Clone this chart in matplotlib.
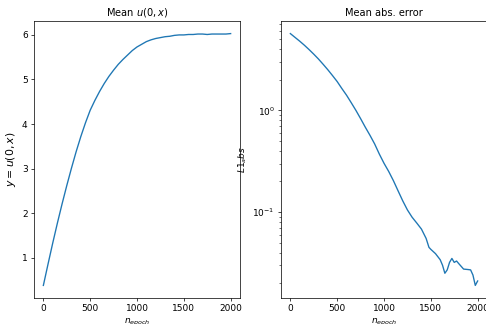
import numpy as np
import matplotlib
matplotlib.use('Agg')
import matplotlib.pyplot as plt

# mean u(0, x) over training epochs
epochs_u = [0, 50, 100, 150, 200, 250, 300, 350, 400, 450, 500, 550, 600, 650, 700,
            750, 800, 850, 900, 950, 1000, 1050, 1100, 1150, 1200, 1250, 1300, 1350,
            1400, 1450, 1500, 1550, 1600, 1650, 1700, 1750, 1800, 1850, 1900, 1950, 2000]
mean_u = [0.38, 0.86, 1.33, 1.78, 2.21, 2.62, 3.01, 3.38, 3.72, 4.03, 4.31, 4.53, 4.73,
          4.91, 5.07, 5.21, 5.34, 5.45, 5.55, 5.65, 5.73, 5.79, 5.85, 5.89, 5.92, 5.94,
          5.96, 5.97, 5.99, 6.00, 6.00, 6.01, 6.01, 6.02, 6.02, 6.01, 6.02, 6.02, 6.02,
          6.02, 6.03]

# mean absolute error over training epochs
epochs_err = [0, 50, 100, 150, 200, 250, 300, 350, 400, 450, 500, 550, 600, 650, 700,
              750, 800, 850, 900, 950, 1000, 1050, 1100, 1150, 1200, 1250, 1300, 1350,
              1400, 1450, 1480, 1500, 1550, 1600, 1625, 1650, 1675, 1700, 1725, 1750,
              1775, 1800, 1850, 1900, 1925, 1950, 1975, 2000]
mean_err = [5.69, 5.22, 4.79, 4.37, 3.96, 3.57, 3.20, 2.84, 2.51, 2.20, 1.92, 1.64, 1.41,
            1.19, 1.00, 0.83, 0.684, 0.569, 0.468, 0.372, 0.302, 0.251, 0.204, 0.162,
            0.129, 0.105, 0.089, 0.078, 0.068, 0.055, 0.045, 0.043, 0.039, 0.034, 0.030,
            0.025, 0.027, 0.032, 0.035, 0.032, 0.033, 0.031, 0.0275, 0.0272, 0.027,
            0.024, 0.019, 0.021]

fig = plt.figure(figsize=(486 / 65, 324 / 65), dpi=65)
ax1 = fig.add_axes([34 / 486, 26 / 324, 206 / 486, 277 / 324])
ax2 = fig.add_axes([281 / 486, 26 / 324, 206 / 486, 277 / 324])

ax1.plot(epochs_u, mean_u)
ax1.set_title('Mean $u(0,x)$', fontsize=11)
ax1.set_ylabel('$y = u(0,x)$', fontsize=12)
ax1.set_xlabel('$n_{epoch}$')

ax2.plot(epochs_err, mean_err)
ax2.set_yscale('log')
ax2.set_title('Mean abs. error', fontsize=11)
ax2.set_ylabel('$L1_abs$')
ax2.set_xlabel('$n_{epoch}$')

fig.savefig('out.png', dpi=65)
